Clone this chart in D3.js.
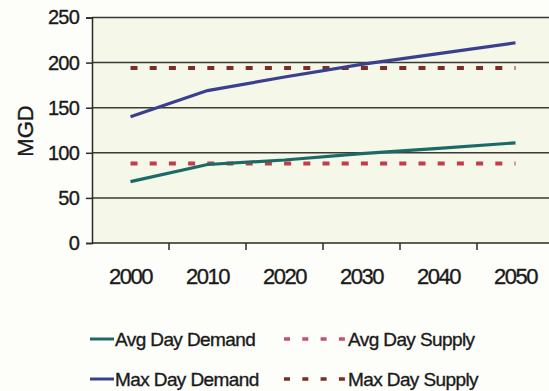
<!DOCTYPE html>
<html><head><meta charset="utf-8">
<script src="https://cdn.jsdelivr.net/npm/d3@7"></script>
<style>
html,body{margin:0;padding:0;background:#fdfdfa;}
svg{display:block;font-family:"Liberation Sans",Arial,sans-serif;}
svg text{stroke:#1a1a1a;stroke-width:0.35px;}
</style></head>
<body>
<script>
const years = ["2000","2010","2020","2030","2040","2050"];
const avgDemand = [68, 87, 92, 99, 105, 111];
const maxDemand = [140, 169, 184, 198, 210, 222];
const avgSupply = [88, 88, 88, 88, 88, 88];
const maxSupply = [194, 194, 194, 194, 194, 194];
const yTicks = [0, 50, 100, 150, 200, 250];
const yLabel = "MGD";
const seriesNames = ["Avg Day Demand", "Avg Day Supply", "Max Day Demand", "Max Day Supply"];

(function () {
const W = 549, H = 391;
const svg = d3.select("body").append("svg").attr("width", W).attr("height", H);
svg.append("rect").attr("width", W).attr("height", H).attr("fill", "#fdfdfa");

const pL = 92, pR = 554, pT = 17.5, pB = 243;
const x = d3.scaleBand().domain(years).range([pL, pR]);
const y = d3.scaleLinear().domain([0, 250]).range([pB, pT]);

svg.append("rect").attr("x", pL).attr("y", pT).attr("width", pR - pL).attr("height", pB - pT).attr("fill", "#f5f7e8");

// gridlines
svg.append("g").selectAll("line").data(yTicks.filter(d => d > 0)).join("line")
  .attr("x1", pL).attr("x2", pR).attr("y1", d => y(d)).attr("y2", d => y(d))
  .attr("stroke", "#3a3a36").attr("stroke-width", 1.5);

// y axis
const yAxis = d3.axisLeft(y).tickValues(yTicks).tickSize(6).tickPadding(6);
const gy = svg.append("g").attr("transform", `translate(${pL},0)`).call(yAxis);
gy.select(".domain").attr("stroke", "#2a2a26").attr("stroke-width", 1.5);
gy.selectAll(".tick line").attr("stroke", "#2a2a26").attr("stroke-width", 1.5);
gy.selectAll(".tick text").attr("font-size", 20).attr("letter-spacing", "-0.8px")
  .attr("fill", "#1a1a1a").attr("font-family", "Liberation Sans, Arial, sans-serif").attr("dx", "-1");

// x axis
const gx = svg.append("g").attr("transform", `translate(0,${pB})`);
gx.append("line").attr("x1", pL).attr("x2", pR).attr("stroke", "#2a2a26").attr("stroke-width", 1.5);
gx.selectAll("line.tk").data(years.slice(1)).join("line").attr("class", "tk")
  .attr("x1", d => x(d)).attr("x2", d => x(d)).attr("y1", 0).attr("y2", 7)
  .attr("stroke", "#2a2a26").attr("stroke-width", 1.5);
gx.selectAll("text").data(years).join("text")
  .attr("x", d => x(d) + x.bandwidth() / 2).attr("y", 41)
  .attr("text-anchor", "middle").attr("font-size", 22).attr("letter-spacing", "-1.5px")
  .attr("fill", "#1a1a1a").text(d => d);

// y label
svg.append("text").attr("transform", `translate(32.5,131) rotate(-90)`)
  .attr("text-anchor", "middle").attr("font-size", 22).attr("fill", "#1a1a1a").text(yLabel);

const cx = (d, i) => x(years[i]) + x.bandwidth() / 2;
const line = d3.line().x((d, i) => cx(d, i)).y(d => y(d));

const dashStyle = "7 12.2";
svg.append("path").datum(avgSupply).attr("d", line).attr("fill", "none")
  .attr("stroke", "#c23c4c").attr("stroke-width", 4).attr("stroke-dasharray", dashStyle);
svg.append("path").datum(maxSupply).attr("d", line).attr("fill", "none")
  .attr("stroke", "#7a2e26").attr("stroke-width", 4).attr("stroke-dasharray", dashStyle);
svg.append("path").datum(avgDemand).attr("d", line).attr("fill", "none")
  .attr("stroke", "#1c6a68").attr("stroke-width", 3.2);
svg.append("path").datum(maxDemand).attr("d", line).attr("fill", "none")
  .attr("stroke", "#3a3f8e").attr("stroke-width", 3.2);

// legend
const legend = [
  {name: seriesNames[0], color: "#1c6a68", dash: null, x: 90, y: 339},
  {name: seriesNames[1], color: "#c8506a", dash: "6 12.3", x: 284, y: 339},
  {name: seriesNames[2], color: "#3a3f8e", dash: null, x: 90, y: 379},
  {name: seriesNames[3], color: "#7a2e26", dash: "6 12.3", x: 284, y: 379}
];
legend.forEach(l => {
  const g = svg.append("g");
  if (l.dash) {
    g.append("line").attr("x1", l.x).attr("x2", l.x + 62).attr("y1", l.y).attr("y2", l.y)
      .attr("stroke", l.color).attr("stroke-width", 3.5).attr("stroke-dasharray", l.dash);
    g.append("text").attr("x", l.x + 64).attr("y", l.y + 7).attr("font-size", 19)
      .attr("letter-spacing", "-0.6px").attr("fill", "#1a1a1a").text(l.name);
  } else {
    g.append("line").attr("x1", l.x).attr("x2", l.x + 24).attr("y1", l.y).attr("y2", l.y)
      .attr("stroke", l.color).attr("stroke-width", 3);
    g.append("text").attr("x", l.x + 25).attr("y", l.y + 7).attr("font-size", 19)
      .attr("letter-spacing", "-0.6px").attr("fill", "#1a1a1a").text(l.name);
  }
});
})();
</script>
</body></html>
